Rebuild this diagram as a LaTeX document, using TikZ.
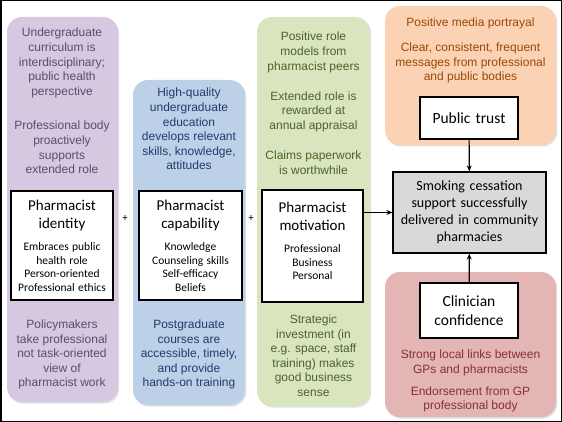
\documentclass[tikz,border=0pt]{standalone}
\usepackage{fontspec}
\setmainfont{Liberation Sans}
\newfontfamily\boxfont{Carlito}
\usetikzlibrary{arrows.meta,shadows}

\definecolor{lilac}{HTML}{D5C8E0}
\definecolor{lilacInk}{HTML}{5E4A70}
\definecolor{sky}{HTML}{BCD0E8}
\definecolor{skyInk}{HTML}{1F3C6B}
\definecolor{leaf}{HTML}{D8E5BF}
\definecolor{leafInk}{HTML}{4F6228}
\definecolor{peach}{HTML}{FBD3B4}
\definecolor{peachInk}{HTML}{984807}
\definecolor{rose}{HTML}{E4B5B5}
\definecolor{roseInk}{HTML}{843232}
\definecolor{smoke}{HTML}{D9D9D9}

\newcommand\factorhead{\boxfont\fontsize{15}{18}\selectfont}
\newcommand\factorlist{\boxfont\fontsize{11.5}{13.5}\selectfont}

\tikzset{
  bubble/.style={rounded corners=15pt, inner sep=0pt,
    drop shadow={opacity=0.25, shadow xshift=1.2pt, shadow yshift=-1.5pt}},
  note/.style={align=center, inner sep=0pt, font=\fontsize{12}{14.6}\selectfont},
  factor/.style={draw=black, line width=1.2pt, fill=white, inner sep=0pt,
    text width=#1, align=center},
  link/.style={-{Stealth[length=6pt,width=5pt]}, line width=1.2pt},
}

\begin{document}
\begin{tikzpicture}[x=1pt, y=-1pt]
  \useasboundingbox (0,0) rectangle (562,422);

  % Shade the bubbles behind each factor
  \node[bubble, fill=lilac, minimum width=111pt, minimum height=385pt] (identityBg) at (62.5,209.5) {};
  \node[bubble, fill=sky, minimum width=112pt, minimum height=325pt] (capabilityBg) at (189,242.5) {};
  \node[bubble, fill=leaf, minimum width=113pt, minimum height=389pt] (motivationBg) at (313.5,211.5) {};
  \node[bubble, fill=peach, minimum width=171pt, minimum height=139pt] (trustBg) at (470.5,75.5) {};
  \node[bubble, fill=rose, minimum width=171pt, minimum height=145pt] (clinicianBg) at (470.5,344.5) {};

  % Notes in the bubbles
  \node[note, text=lilacInk] (identityTop) at (62,101) {Undergraduate\\curriculum is\\interdisciplinary;\\public health\\perspective\\[20pt]Professional body\\proactively\\supports\\extended role};
  \node[note, text=lilacInk] (identityLow) at (62,354.5) {Policymakers\\take professional\\not task-oriented\\view of\\pharmacist work};
  \node[note, text=skyInk] (capabilityTop) at (189,129.2) {High-quality\\undergraduate\\education\\develops relevant\\skills, knowledge,\\attitudes};
  \node[note, text=skyInk] (capabilityLow) at (189,354.5) {Postgraduate\\courses are\\accessible, timely,\\and provide\\hands-on training};
  \node[note, text=leafInk] (motivationTop) at (313.5,103.3) {Positive role\\models from\\pharmacist peers\\[15.5pt]Extended role is\\rewarded at\\annual appraisal\\[15.5pt]Claims paperwork\\is worthwhile};
  \node[note, text=leafInk] (motivationLow) at (313.5,355.8) {Strategic\\investment (in\\e.g. space, staff\\training) makes\\good business\\sense};
  \node[note, text=peachInk] (trustNote) at (470.5,50.5) {Positive media portrayal\\[10.6pt]Clear, consistent, frequent\\messages from professional\\and public bodies};
  \node[note, text=roseInk] (clinicianNote) at (470.5,381.2) {Strong local links between\\GPs and pharmacists\\[7pt]Endorsement from GP\\professional body};

  % The factors
  \node[factor=102pt, minimum height=109pt] (identity) at (62,245.5) {{\factorhead Pharmacist\\identity\par}\vspace{9pt}{\factorlist Embraces public\\health role\\Person-oriented\\Professional ethics\par}};
  \node[factor=103pt, minimum height=109pt] (capability) at (190.5,245.5) {{\factorhead Pharmacist\\capability\par}\vspace{9pt}{\factorlist Knowledge\\Counseling skills\\Self-efficacy\\Beliefs\par}};
  \node[factor=101pt, minimum height=112pt] (motivation) at (312.5,246) {{\factorhead Pharmacist\\motivation\par}\vspace{9pt}{\factorlist Professional\\Business\\Personal\par}\vspace{10pt}\nointerlineskip\hbox{}};
  \node[factor=98pt, minimum height=42pt, font=\boxfont\fontsize{15.5}{19}\selectfont] (trust) at (469,118) {Public trust};
  \node[factor=98pt, minimum height=55pt, font=\boxfont\fontsize{15.5}{19}\selectfont] (clinician) at (469,310.5) {Clinician\\confidence};
  \node[factor=153pt, minimum height=81pt, fill=smoke, font=\boxfont\fontsize{14}{17}\selectfont] (outcome) at (469.5,212.5) {Smoking cessation\\support successfully\\delivered in community\\pharmacies};

  \node[font=\boxfont\fontsize{11}{13}\selectfont] (plusA) at (125,218) {+};
  \node[font=\boxfont\fontsize{11}{13}\selectfont] (plusB) at (251,218) {+};

  % Arrows into the outcome
  \draw[link] (motivation.east |- outcome.west) -- (outcome.west);
  \draw[link] (trust) -- (outcome);
  \draw[link] (clinician) -- (outcome);

  \draw[line width=1.5pt] (0.75,0.75) rectangle (561.25,421.25);
\end{tikzpicture}
\end{document}
